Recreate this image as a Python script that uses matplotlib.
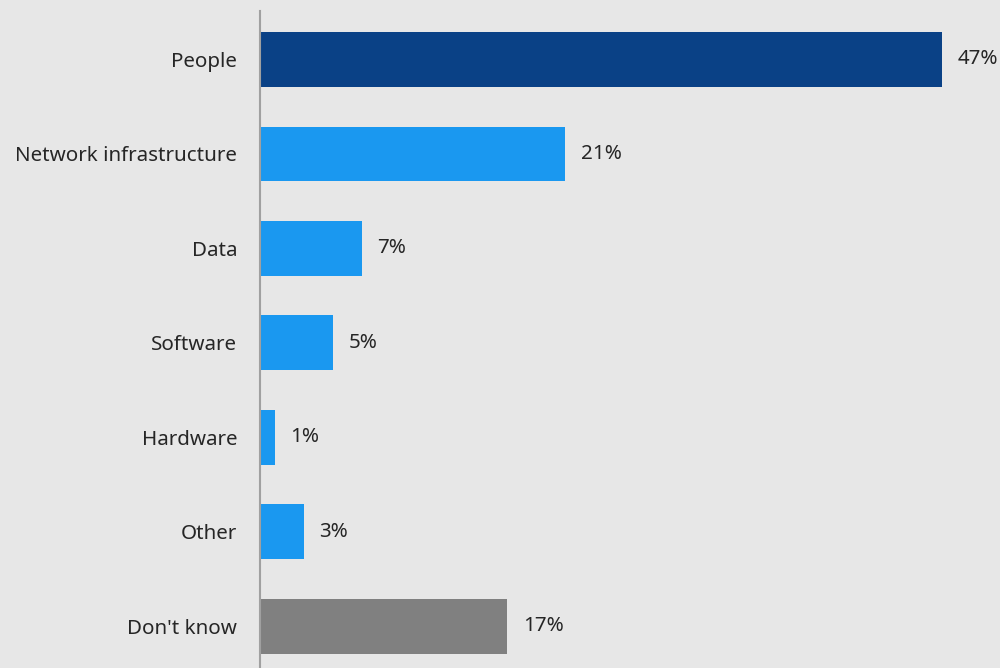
import matplotlib.pyplot as plt

categories = ['People', 'Network infrastructure', 'Data', 'Software',
              'Hardware', 'Other', "Don't know"]
values = [47, 21, 7, 5, 1, 3, 17]
colors = ['#0A4186', '#1A98F0', '#1A98F0', '#1A98F0', '#1A98F0', '#1A98F0', '#808080']

bg = '#E7E7E7'
plt.rcParams['font.family'] = ['Noto Sans', 'DejaVu Sans']

fig = plt.figure(figsize=(10, 6.68), dpi=100)
fig.patch.set_facecolor(bg)
ax = fig.add_axes([0.26, 0.0, 0.74, 1 - 11 / 668])
ax.set_facecolor(bg)

pos = list(range(len(categories)))
ax.barh(pos, values, height=0.58, color=colors)

for y, v in zip(pos, values):
    ax.text(v + 1.1, y, f'{v}%', va='center', ha='left', fontsize=14.8, color='#262626')

ax.set_xlim(0, 51)
ax.set_ylim(6.443, -0.513)
ax.set_yticks(pos)
ax.set_yticklabels(categories, fontsize=14.8, color='#262626')
ax.tick_params(axis='y', length=0, pad=16.5)
ax.set_xticks([])

for side in ['top', 'right', 'bottom']:
    ax.spines[side].set_visible(False)
ax.spines['left'].set_color('#A0A0A0')
ax.spines['left'].set_linewidth(1.5)

fig.savefig('out.png', dpi=100, facecolor=bg)
